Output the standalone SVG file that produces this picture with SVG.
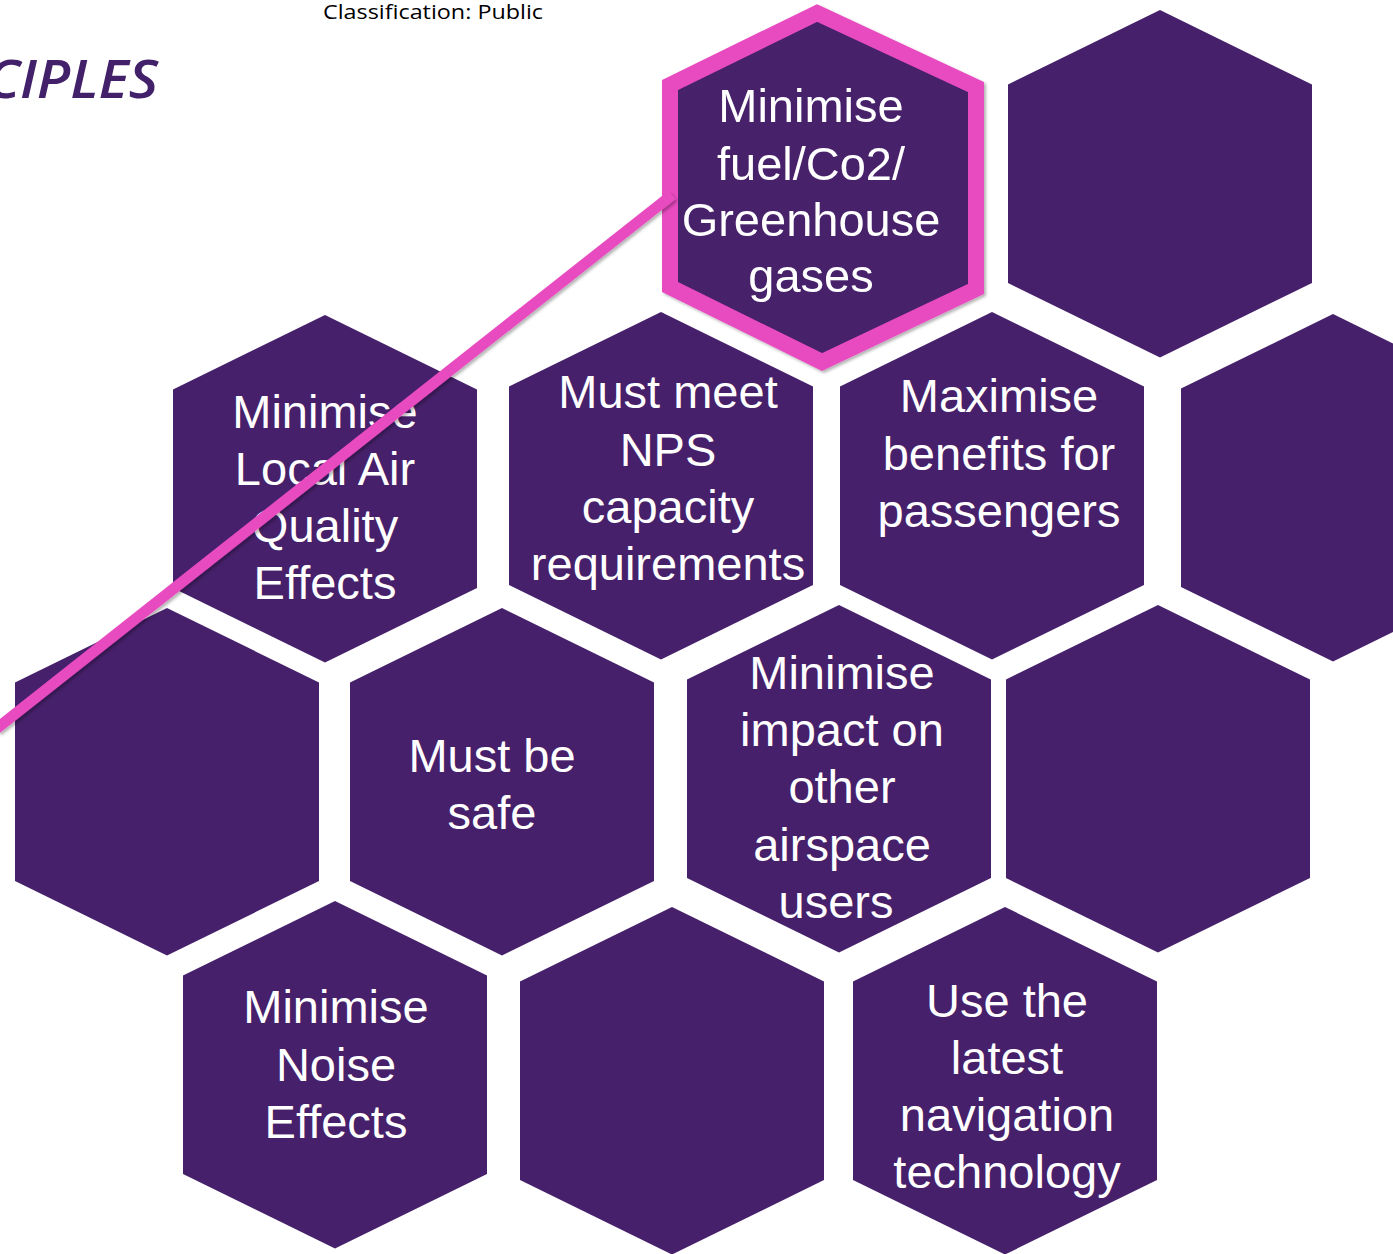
<svg xmlns="http://www.w3.org/2000/svg" xmlns:xlink="http://www.w3.org/1999/xlink" width="1393" height="1254" viewBox="0 0 1393 1254">
  <style>
    .hex { fill: #46206A; }
    .hl { fill: #46206A; stroke: #E84CC0; stroke-width: 16; stroke-linejoin: miter; }
    .lbl { font-family: "Liberation Sans", Arial, sans-serif; font-size: 47px; fill: #FFFFFF; text-anchor: middle; }
    .hdr { font-family: "Open Sans", "Liberation Sans", sans-serif; font-size: 20px; fill: #000000; }
    .ttl { font-family: "Open Sans", "Liberation Sans", sans-serif; font-size: 53px; font-style: italic; font-weight: 600; fill: #43206A; }
    .link { fill: none; stroke: #E84CC0; stroke-width: 11; stroke-linecap: butt; }
  </style>
  <defs>
    <!-- pointy-top hexagon, origin at the top vertex -->
    <polygon id="hexShape" points="0,0 152,74.5 152,273 0,347.5 -152,273 -152,74.5"/>
    <filter id="soft" x="-10%" y="-10%" width="120%" height="120%">
      <feDropShadow dx="2" dy="2" stdDeviation="1.5" flood-color="#000000" flood-opacity="0.3"/>
    </filter>
  </defs>

  <rect width="1393" height="1254" fill="#FFFFFF"/>

  <!-- page header; the title runs off the left edge of the page -->
  <text class="hdr" x="323" y="19" textLength="220" lengthAdjust="spacingAndGlyphs">Classification: Public</text>
  <text class="ttl" x="-14" y="98" textLength="172" lengthAdjust="spacingAndGlyphs">CIPLES</text>

  <!-- highlighted principle -->
  <g id="node-greenhouse" filter="url(#soft)">
    <polygon class="hl" points="817,13 976,87 976,289 822,362 670,287 670,85"/>
    <text class="lbl" x="811" y="122">Minimise</text>
    <text class="lbl" x="811" y="180">fuel/Co2/</text>
    <text class="lbl" x="811" y="236">Greenhouse</text>
    <text class="lbl" x="811" y="292">gases</text>
  </g>

  <g id="node-blank-1">
    <use href="#hexShape" class="hex" x="1160" y="10"/>
  </g>

  <g id="node-local-air">
    <use href="#hexShape" class="hex" x="325" y="315"/>
    <text class="lbl" x="325" y="428">Minimise</text>
    <text class="lbl" x="325" y="485">Local Air</text>
    <text class="lbl" x="325" y="542">Quality</text>
    <text class="lbl" x="325" y="599">Effects</text>
  </g>

  <g id="node-nps">
    <use href="#hexShape" class="hex" x="661" y="312"/>
    <text class="lbl" x="668" y="408">Must meet</text>
    <text class="lbl" x="668" y="466">NPS</text>
    <text class="lbl" x="668" y="523">capacity</text>
    <text class="lbl" x="668" y="580">requirements</text>
  </g>

  <g id="node-passengers">
    <use href="#hexShape" class="hex" x="992" y="312"/>
    <text class="lbl" x="999" y="412">Maximise</text>
    <text class="lbl" x="999" y="470">benefits for</text>
    <text class="lbl" x="999" y="527">passengers</text>
  </g>

  <g id="node-blank-2">
    <use href="#hexShape" class="hex" x="1333" y="314"/>
  </g>

  <g id="node-blank-3">
    <use href="#hexShape" class="hex" x="167" y="608"/>
  </g>

  <g id="node-safe">
    <use href="#hexShape" class="hex" x="502" y="608"/>
    <text class="lbl" x="492" y="772">Must be</text>
    <text class="lbl" x="492" y="829">safe</text>
  </g>

  <g id="node-airspace">
    <use href="#hexShape" class="hex" x="839" y="605"/>
    <text class="lbl" x="842" y="689">Minimise</text>
    <text class="lbl" x="842" y="746">impact on</text>
    <text class="lbl" x="842" y="803">other</text>
    <text class="lbl" x="842" y="861">airspace</text>
    <text class="lbl" x="836" y="918">users</text>
  </g>

  <g id="node-blank-4">
    <use href="#hexShape" class="hex" x="1158" y="605"/>
  </g>

  <g id="node-noise">
    <use href="#hexShape" class="hex" x="335" y="901"/>
    <text class="lbl" x="336" y="1023">Minimise</text>
    <text class="lbl" x="336" y="1081">Noise</text>
    <text class="lbl" x="336" y="1138">Effects</text>
  </g>

  <g id="node-blank-5">
    <use href="#hexShape" class="hex" x="672" y="907"/>
  </g>

  <g id="node-navigation">
    <use href="#hexShape" class="hex" x="1005" y="907"/>
    <text class="lbl" x="1007" y="1017">Use the</text>
    <text class="lbl" x="1007" y="1074">latest</text>
    <text class="lbl" x="1007" y="1131">navigation</text>
    <text class="lbl" x="1007" y="1188">technology</text>
  </g>

  <!-- callout line from the highlighted hexagon -->
  <g id="connectors" filter="url(#soft)">
    <line class="link" x1="-4" y1="729" x2="672" y2="195"/>
  </g>
</svg>
